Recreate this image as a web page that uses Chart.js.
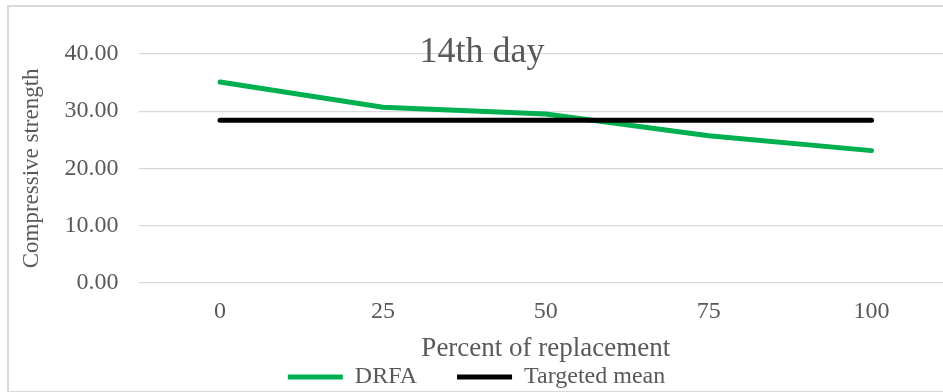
<!DOCTYPE html>
<html lang="en">

<head>
  <meta charset="UTF-8" />
  <title>14th day</title>
  <script src="https://cdn.jsdelivr.net/npm/chart.js"></script>
  <style>
    html, body { margin: 0; padding: 0; width: 943px; height: 392px; overflow: hidden; background: #fff; }
    .moldura { position: absolute; left: 7px; top: 5px; width: 960px; height: 384px; border: 2px solid #d9d9d9; }
    #grafico { position: absolute; left: 0; top: 0; }
  </style>
</head>

<body>
  <div class="moldura"></div>
  <canvas id="grafico" width="960" height="399"></canvas>

  <script>
    // dados
    const categorias = ['0', '25', '50', '75', '100'];
    const drfa = [35.1, 30.7, 29.5, 25.7, 23.1];
    const mediaAlvo = [28.4, 28.4, 28.4, 28.4, 28.4];
    const ticksY = [0, 10, 20, 30, 40];

    const serif = "'Liberation Serif', 'Times New Roman', serif";
    const cinza = '#595959';

    // titulo por cima da area do grafico, como no Excel
    const tituloSobreposto = {
      id: 'tituloSobreposto',
      afterDraw(chart) {
        const ctx = chart.ctx;
        ctx.save();
        ctx.font = `36px ${serif}`;
        ctx.fillStyle = cinza;
        ctx.textAlign = 'center';
        ctx.textBaseline = 'alphabetic';
        ctx.fillText('14th day', chart.width / 2 + 2, 62);
        ctx.restore();
      }
    };

    const ctx = document.getElementById('grafico').getContext('2d');
    new Chart(ctx, {
      type: 'line',
      data: {
        labels: categorias,
        datasets: [{
          label: 'DRFA',
          data: drfa,
          borderColor: '#00B050',
          backgroundColor: '#00B050',
          borderWidth: 5,
          borderCapStyle: 'round',
          pointRadius: 0,
          tension: 0,
          order: 1
        }, {
          label: 'Targeted mean',
          data: mediaAlvo,
          borderColor: '#000000',
          backgroundColor: '#000000',
          borderWidth: 5,
          borderCapStyle: 'round',
          pointRadius: 0,
          tension: 0,
          order: 0
        }]
      },
      options: {
        responsive: false,
        animation: false,
        layout: { padding: { left: 0, right: 7, top: 54, bottom: 0 } },
        plugins: {
          tooltip: { enabled: false },
          legend: {
            position: 'bottom',
            labels: {
              color: cinza,
              font: { family: serif, size: 24 },
              boxWidth: 55,
              boxHeight: 5,
              padding: 40,
              sort: (a, b) => a.datasetIndex - b.datasetIndex,
              generateLabels(chart) {
                const itens = Chart.defaults.plugins.legend.labels.generateLabels(chart);
                return itens.map(i => Object.assign(i, { lineWidth: 0 }));
              }
            }
          }
        },
        scales: {
          x: {
            offset: true,
            grid: { display: false },
            border: { display: false },
            ticks: { color: cinza, font: { family: serif, size: 24 }, padding: 7 },
            title: {
              display: true,
              text: 'Percent of replacement',
              color: cinza,
              font: { family: serif, size: 27 },
              padding: { top: 0, bottom: -40 }
            },
            afterFit(scale) { scale.height = 42.3; }
          },
          y: {
            min: 0,
            max: 40,
            afterBuildTicks(scale) { scale.ticks = ticksY.map(v => ({ value: v })); },
            grid: { color: '#d9d9d9', lineWidth: 1.3, drawTicks: false },
            border: { display: false },
            ticks: {
              color: cinza,
              font: { family: serif, size: 24 },
              padding: 20,
              callback: v => Number(v).toFixed(2)
            },
            title: {
              display: true,
              text: 'Compressive strength',
              color: cinza,
              font: { family: serif, size: 23 },
              padding: { top: 18, bottom: 0 }
            },
            afterFit(scale) { scale.width = 138.6; }
          }
        }
      },
      plugins: [tituloSobreposto]
    });
  </script>
</body>

</html>
